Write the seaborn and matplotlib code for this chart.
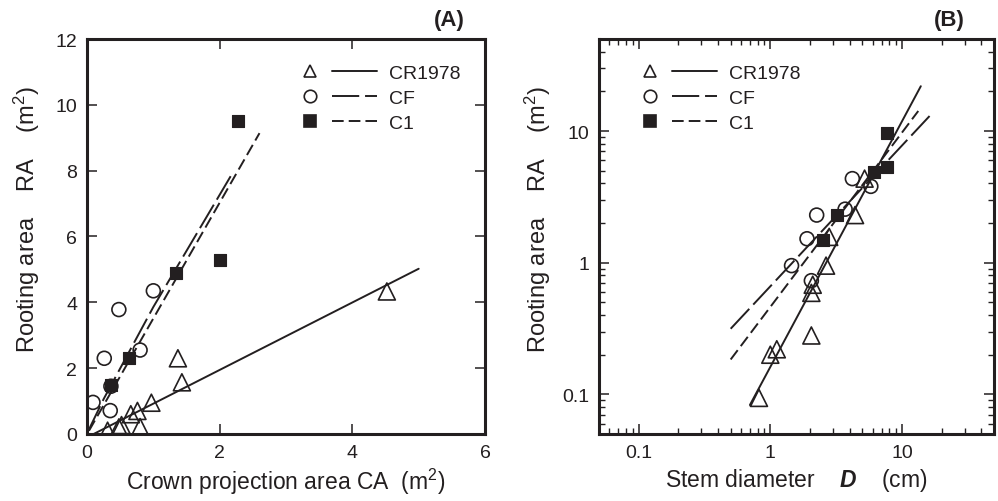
import numpy as np
import pandas as pd
import matplotlib
matplotlib.use('Agg')
import matplotlib.pyplot as plt
import seaborn as sns
from matplotlib.lines import Line2D
from matplotlib.legend_handler import HandlerTuple
from matplotlib.ticker import LogLocator, NullFormatter

# ---- panel A data: crown projection area vs rooting area (m2)
ca_cr = [4.52, 1.37, 1.43, 0.97, 0.76, 0.66, 0.48, 0.52, 0.80, 0.31]
ra_cr = [4.33, 2.30, 1.57, 0.95, 0.70, 0.60, 0.20, 0.27, 0.21, 0.10]
ca_cf = [1.00, 0.48, 0.26, 0.80, 0.36, 0.09, 0.35]
ra_cf = [4.35, 3.78, 2.30, 2.55, 1.45, 0.96, 0.71]
ca_c1 = [2.27, 2.01, 1.34, 0.64, 0.36]
ra_c1 = [9.50, 5.30, 4.90, 2.30, 1.50]

# fitted lines
fitA_cr_x = [0.10, 5.00]
fitA_cr_y = [0.00, 5.02]
fitA_cf_x = [0.02, 0.25, 1.00, 2.20]
fitA_cf_y = [0.10, 1.06, 3.86, 7.95]
fitA_c1_x = [0.03, 2.60]
fitA_c1_y = [0.10, 9.14]

# ---- panel B data: stem diameter (cm) vs rooting area (m2)
d_cr = [5.2, 4.4, 2.8, 2.65, 2.1, 2.05, 2.05, 1.12, 1.0, 0.82]
rb_cr = [4.35, 2.30, 1.57, 0.95, 0.68, 0.59, 0.28, 0.22, 0.20, 0.094]
d_cf = [4.2, 5.8, 3.7, 2.25, 1.9, 1.45, 2.05]
rb_cf = [4.35, 3.80, 2.55, 2.30, 1.52, 0.95, 0.73]
d_c1 = [7.7, 7.7, 6.1, 3.2, 2.5]
rb_c1 = [9.6, 5.3, 4.9, 2.3, 1.5]

fitB_cr_x = [0.70, 13.9]
fitB_cr_y = [0.083, 21.9]
fitB_cf_x = [0.50, 16.2]
fitB_cf_y = [0.315, 13.0]
fitB_c1_x = [0.50, 13.3]
fitB_c1_y = [0.184, 14.2]

labels = ['CR1978', 'CF', 'C1']

sns.set_style('ticks')
plt.rcParams['font.family'] = ['Liberation Sans', 'DejaVu Sans']
plt.rcParams['mathtext.fontset'] = 'custom'
plt.rcParams['mathtext.rm'] = 'Liberation Sans'
plt.rcParams['mathtext.it'] = 'Liberation Sans:italic'
plt.rcParams['mathtext.bf'] = 'Liberation Sans:bold'
plt.rcParams['mathtext.bfit'] = 'Liberation Sans:italic:bold'

ink = '#231f20'
fs = 14
fs_lab = 16.5
lw = 1.4
ls_cf = (0, (14, 3))
ls_c1 = (0, (6, 2.6))

fig = plt.figure(figsize=(9.98, 5.02), dpi=100)
axA = fig.add_axes([0.0872, 0.1335, 0.3988, 0.7868])
axB = fig.add_axes([0.6002, 0.1335, 0.3958, 0.7868])


def points(ax, x, y, marker, size, filled):
    df = pd.DataFrame({'x': x, 'y': y})
    if filled:
        sns.scatterplot(data=df, x='x', y='y', ax=ax, marker=marker, s=size,
                        color=ink, edgecolor=ink, linewidth=0.8, zorder=3)
    else:
        sns.scatterplot(data=df, x='x', y='y', ax=ax, marker=marker, s=size,
                        facecolor='none', edgecolor=ink, linewidth=1.2, zorder=3)


def fitline(ax, x, y, ls):
    sns.lineplot(x=x, y=y, ax=ax, color=ink, lw=lw, linestyle=ls, sort=False,
                 estimator=None, zorder=2)


ylab = 'Rooting area    RA    (m$^2$)'

# ---- panel A
fitline(axA, fitA_cr_x, fitA_cr_y, '-')
fitline(axA, fitA_cf_x, fitA_cf_y, ls_cf)
fitline(axA, fitA_c1_x, fitA_c1_y, ls_c1)
points(axA, ca_cr, ra_cr, '^', 150, False)
points(axA, ca_cf, ra_cf, 'o', 100, False)
points(axA, ca_c1, ra_c1, 's', 80, True)
axA.set_xlim(0, 6)
axA.set_ylim(0, 12)
axA.set_xticks([0, 2, 4, 6])
axA.set_yticks([0, 2, 4, 6, 8, 10, 12])
axA.set_xlabel('Crown projection area CA  (m$^2$)', fontsize=fs_lab, color=ink)
axA.set_ylabel(ylab, fontsize=17, color=ink)
axA.text(0.95, 1.05, '(A)', transform=axA.transAxes, ha='right', va='center',
         fontsize=16, fontweight='bold', color=ink)

# ---- panel B
fitline(axB, fitB_cr_x, fitB_cr_y, '-')
fitline(axB, fitB_cf_x, fitB_cf_y, ls_cf)
fitline(axB, fitB_c1_x, fitB_c1_y, ls_c1)
points(axB, d_cr, rb_cr, '^', 150, False)
points(axB, d_cf, rb_cf, 'o', 100, False)
points(axB, d_c1, rb_c1, 's', 80, True)
axB.set_xscale('log')
axB.set_yscale('log')
axB.set_xlim(0.05, 50)
axB.set_ylim(0.05, 50)
for axis in (axB.xaxis, axB.yaxis):
    axis.set_major_locator(LogLocator(base=10, numticks=10))
    axis.set_minor_locator(LogLocator(base=10, subs=np.arange(2, 10), numticks=20))
    axis.set_minor_formatter(NullFormatter())
axB.set_xticks([0.1, 1, 10], labels=['0.1', '1', '10'])
axB.set_yticks([0.1, 1, 10], labels=['0.1', '1', '10'])
axB.set_xlabel(r'Stem diameter    $\mathbfit{D}$    (cm)', fontsize=fs_lab, color=ink)
axB.set_ylabel(ylab, fontsize=17, color=ink)
axB.text(0.925, 1.05, '(B)', transform=axB.transAxes, ha='right', va='center',
         fontsize=16, fontweight='bold', color=ink)

for ax in (axA, axB):
    for sp in ax.spines.values():
        sp.set_linewidth(2.2)
        sp.set_color(ink)
    ax.tick_params(which='major', direction='in', length=7, width=1.1,
                   top=True, right=True, labelsize=fs, colors=ink, pad=7)
    ax.tick_params(which='minor', direction='in', length=4, width=1.0,
                   top=True, right=True, colors=ink)
    ax.xaxis.labelpad = 4
axA.yaxis.set_label_coords(-0.112, 0.544)
axB.yaxis.set_label_coords(-0.117, 0.544)

# ---- legends: marker + line sample side by side
def legend(ax, x0):
    handles = []
    for mk, ls, fill in [('^', '-', 'none'), ('o', ls_cf, 'none'), ('s', ls_c1, ink)]:
        m = Line2D([], [], marker=mk, linestyle='none', markersize=9 if mk != 's' else 8.5,
                   markerfacecolor=fill, markeredgecolor=ink, markeredgewidth=1.2)
        l = Line2D([], [], color=ink, lw=lw, linestyle=ls)
        handles.append((m, l))
    ax.legend(handles, labels, handler_map={tuple: HandlerTuple(ndivide=None, pad=0.0)},
              loc='upper left', bbox_to_anchor=(x0, 0.937), borderaxespad=0,
              borderpad=0, frameon=False, fontsize=fs, handlelength=4.6,
              handletextpad=0.6, labelspacing=0.4, numpoints=1, labelcolor=ink)

legend(axA, 0.504)
legend(axB, 0.072)

fig.savefig('out.png', dpi=100)
